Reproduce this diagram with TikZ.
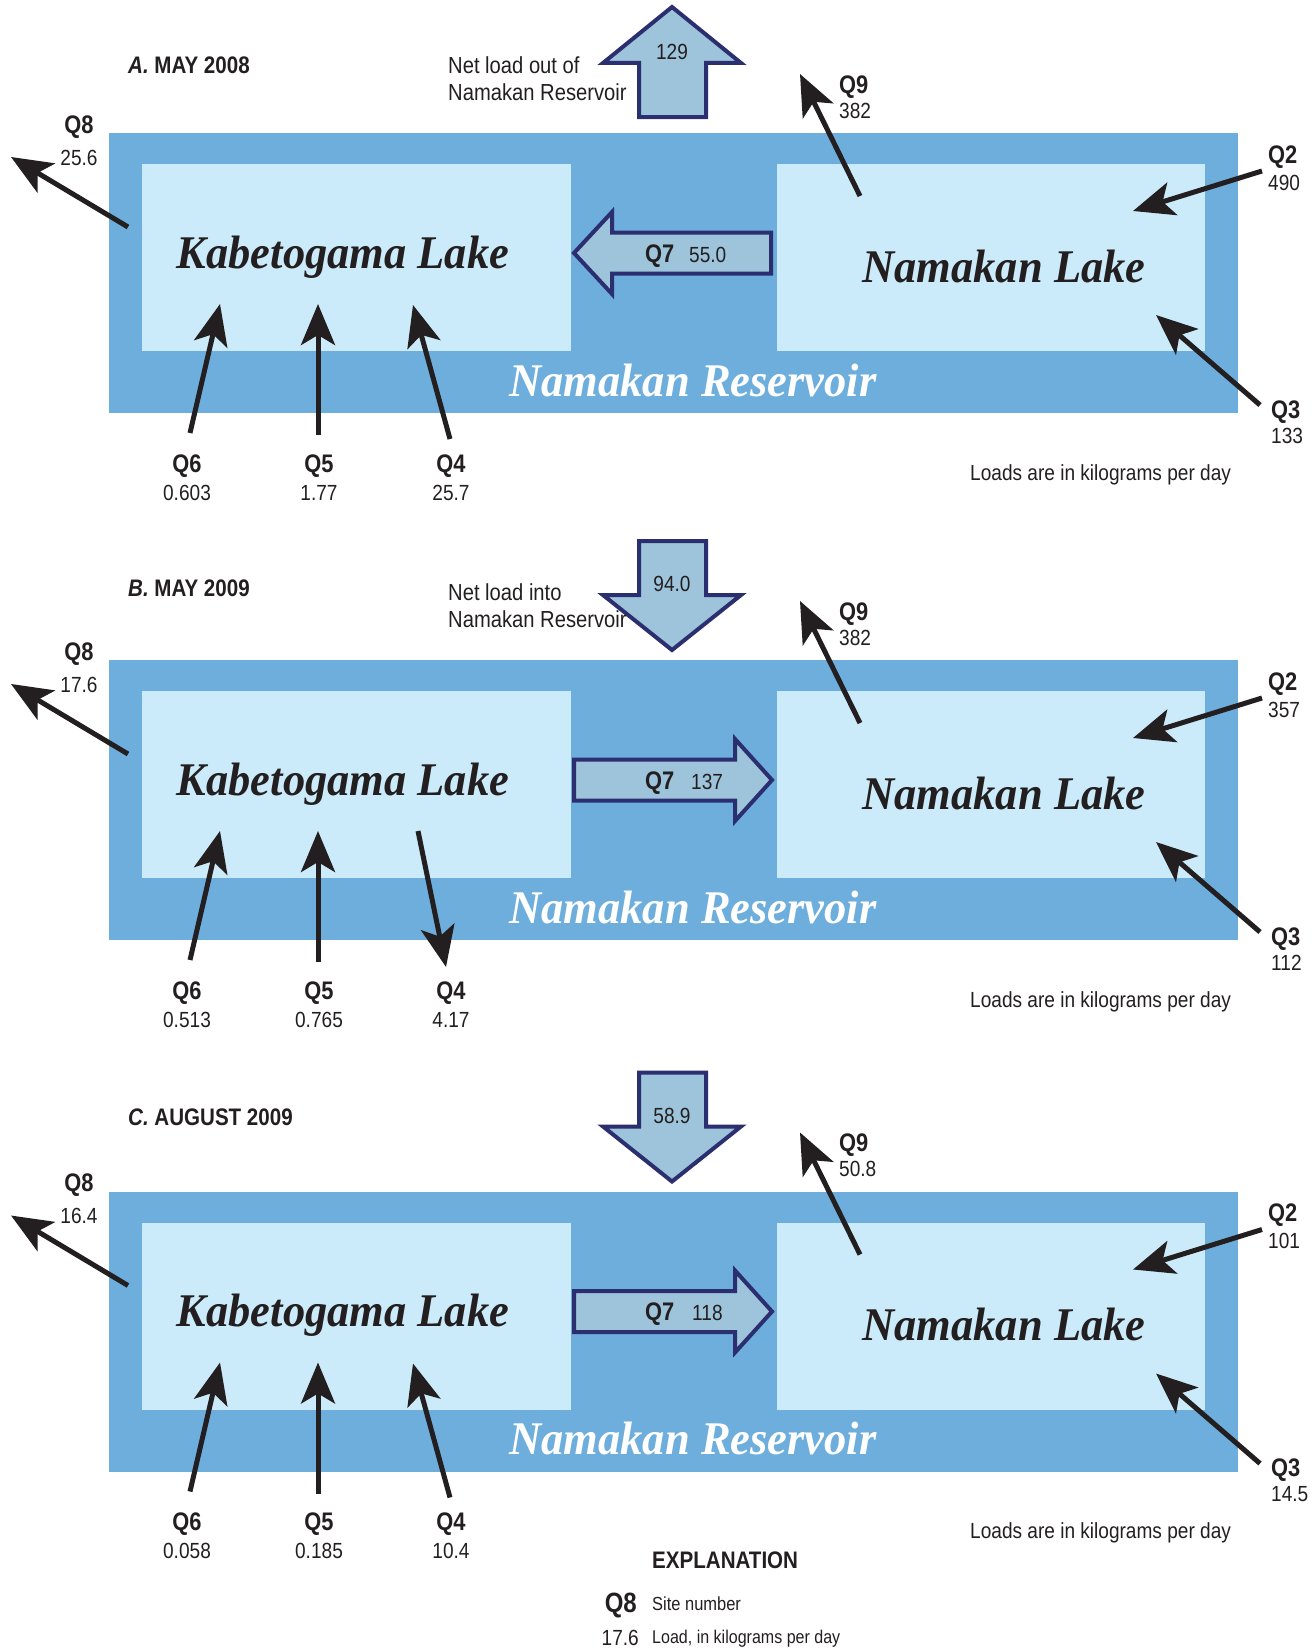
\documentclass[tikz,border=0pt]{standalone}
\usepackage{fontspec}
\usepackage{tikz}
\usetikzlibrary{arrows.meta}
\newfontfamily\labfont{Liberation Sans}[FakeStretch=0.87]
\newfontfamily\qfont{Liberation Sans}[FakeStretch=0.86]
\newfontfamily\lakefont{Liberation Serif}[FakeStretch=0.95]
\definecolor{resblue}{HTML}{6EAEDD}
\definecolor{lakeblue}{HTML}{CCEBFA}
\definecolor{boxfill}{HTML}{9DC4DB}
\definecolor{boxline}{HTML}{2B2E6F}
\definecolor{ink}{HTML}{231F20}
\tikzset{
  reservoir/.style={fill=resblue},
  lake/.style={fill=lakeblue},
  flow/.style={-{Stealth[length=41bp, width=34bp, inset=10bp]}, line width=5bp, draw=ink},
  boxarrow/.style={fill=boxfill, draw=boxline, line width=4bp, line join=miter},
  site/.style={text=ink, inner sep=0pt, font=\qfont\bfseries\fontsize{25.5}{25.5}\selectfont},
  load/.style={text=ink, inner sep=0pt, font=\labfont\fontsize{22}{22}\selectfont},
  note/.style={text=ink, inner sep=0pt, align=left, font=\labfont\fontsize{23.3}{27}\selectfont},
  heading/.style={text=ink, inner sep=0pt, font=\qfont\bfseries\fontsize{24}{24}\selectfont},
  lakename/.style={text=ink, inner sep=0pt, font=\lakefont\bfseries\itshape\fontsize{47}{47}\selectfont},
  resname/.style={lakename, text=white}
}
% one panel: #1 tag, then loads at Q8, Q9, Q2, Q3, Q6, Q5, Q4
\newcommand{\sites}[8]{%
  % reservoir and lakes
  \fill[reservoir] (109,133) rectangle (1238,413);
  \fill[lake] (142,164) rectangle (571,351);
  \fill[lake] (777,164) rectangle (1205,351);
  \node[lakename, anchor=base] (#1kab) at (343,268) {Kabetogama Lake};
  \node[lakename, anchor=base] (#1nam) at (1004,282) {Namakan Lake};
  \node[resname, anchor=base] (#1res) at (693,396) {Namakan Reservoir};
  % site labels
  \node[site, anchor=base] (#1q8) at (79,133) {Q8};
  \node[load, anchor=base] (#1v8) at (79,165) {#2};
  \node[site, anchor=base west] (#1q9) at (839,93) {Q9};
  \node[load, anchor=base west] (#1v9) at (839,118) {#3};
  \node[site, anchor=base west] (#1q2) at (1268,163) {Q2};
  \node[load, anchor=base west] (#1v2) at (1268,190) {#4};
  \node[site, anchor=base west] (#1q3) at (1271,418) {Q3};
  \node[load, anchor=base west] (#1v3) at (1271,443) {#5};
  \node[site, anchor=base] (#1q6) at (187,472) {Q6};
  \node[load, anchor=base] (#1v6) at (187,500) {#6};
  \node[site, anchor=base] (#1q5) at (319,472) {Q5};
  \node[load, anchor=base] (#1v5) at (319,500) {#7};
  \node[site, anchor=base] (#1q4) at (451,472) {Q4};
  \node[load, anchor=base] (#1v4) at (451,500) {#8};
  % site arrows
  \coordinate (#1q8s) at (128,227);  \coordinate (#1q8e) at (11,157);
  \coordinate (#1q9s) at (860,196);  \coordinate (#1q9e) at (800,74);
  \coordinate (#1q2s) at (1262,171); \coordinate (#1q2e) at (1133,211);
  \coordinate (#1q3s) at (1260,405); \coordinate (#1q3e) at (1156,315);
  \coordinate (#1q6s) at (190,433);  \coordinate (#1q6e) at (220,304);
  \coordinate (#1q5s) at (318,435);  \coordinate (#1q5e) at (318,304);
  \draw[flow] (#1q8s) -- (#1q8e);
  \draw[flow] (#1q9s) -- (#1q9e);
  \draw[flow] (#1q2s) -- (#1q2e);
  \draw[flow] (#1q3s) -- (#1q3e);
  \draw[flow] (#1q6s) -- (#1q6e);
  \draw[flow] (#1q5s) -- (#1q5e);
  \node[load, anchor=base west] (#1unit) at (970,480) {Loads are in kilograms per day};
}

\begin{document}
\begin{tikzpicture}[x=1bp, y=-1bp]
  \useasboundingbox (0,0) rectangle (1314,1648);

  % A. May 2008
  \sites{a}{25.6}{382}{490}{133}{0.603}{1.77}{25.7}
  \node[heading, anchor=base west] (atitle) at (128,74) {\textit{A.}\ MAY 2008};
  \coordinate (aq4s) at (450,439); \coordinate (aq4e) at (413,305);
  \draw[flow] (aq4s) -- (aq4e);
  \draw[boxarrow] (574,253) -- (612,212) -- (612,232.5) -- (771,232.5) -- (771,273.5) -- (612,273.5) -- (612,294) -- cycle;
  \node[site, anchor=base west] (aq7) at (645,262) {Q7};
  \node[load, anchor=base west] (av7) at (689,262) {55.0};
  \draw[boxarrow] (672,7) -- (741,63) -- (706,63) -- (706,117) -- (639,117) -- (639,63) -- (603,63) -- cycle;
  \node[load, anchor=base] (anet) at (672,60) {129};
  \node[note, anchor=base west] (anote) at (448,100) {Net load out of\\Namakan Reservoir};

  % B. May 2009
  \begin{scope}[shift={(0,527)}]
    \sites{b}{17.6}{382}{357}{112}{0.513}{0.765}{4.17}
    \node[heading, anchor=base west] (btitle) at (128,69) {\textit{B.}\ MAY 2009};
    \coordinate (bq4s) at (418,304); \coordinate (bq4e) at (446,440);
    \draw[flow] (bq4s) -- (bq4e);
    \draw[boxarrow] (574,232.5) -- (735,232.5) -- (735,212) -- (772,253) -- (735,294) -- (735,273.5) -- (574,273.5) -- cycle;
    \node[site, anchor=base west] (bq7) at (645,262) {Q7};
    \node[load, anchor=base west] (bv7) at (691,262) {137};
    \draw[boxarrow] (672,123) -- (741,68) -- (706,68) -- (706,14) -- (639,14) -- (639,68) -- (603,68) -- cycle;
    \node[load, anchor=base] (bnet) at (672,64) {94.0};
    \node[note, anchor=base west] (bnote) at (448,100) {Net load into\\Namakan Reservoir};
  \end{scope}

  % C. August 2009
  \begin{scope}[shift={(0,1058.5)}]
    \sites{c}{16.4}{50.8}{101}{14.5}{0.058}{0.185}{10.4}
    \node[heading, anchor=base west] (ctitle) at (128,66.5) {\textit{C.}\ AUGUST 2009};
    \coordinate (cq4s) at (450,439); \coordinate (cq4e) at (413,305);
    \draw[flow] (cq4s) -- (cq4e);
    \draw[boxarrow] (574,232.5) -- (735,232.5) -- (735,212) -- (772,253) -- (735,294) -- (735,273.5) -- (574,273.5) -- cycle;
    \node[site, anchor=base west] (cq7) at (645,262) {Q7};
    \node[load, anchor=base west] (cv7) at (692,262) {118};
    \draw[boxarrow] (672,123) -- (741,68) -- (706,68) -- (706,14) -- (639,14) -- (639,68) -- (603,68) -- cycle;
    \node[load, anchor=base] (cnet) at (672,65) {58.9};
  \end{scope}

  % explanation
  \node[heading, anchor=base west] (expl) at (652,1568) {EXPLANATION};
  \node[site, anchor=base east, font=\qfont\bfseries\fontsize{28}{28}\selectfont] (keyq) at (637,1612) {Q8};
  \node[load, anchor=base west, font=\labfont\fontsize{19}{19}\selectfont] (keyqtext) at (652,1610) {Site number};
  \node[load, anchor=base east, font=\labfont\fontsize{22}{22}\selectfont] (keyv) at (639,1645) {17.6};
  \node[load, anchor=base west, font=\labfont\fontsize{18.5}{18.5}\selectfont] (keyvtext) at (652,1643) {Load, in kilograms per day};
\end{tikzpicture}
\end{document}
